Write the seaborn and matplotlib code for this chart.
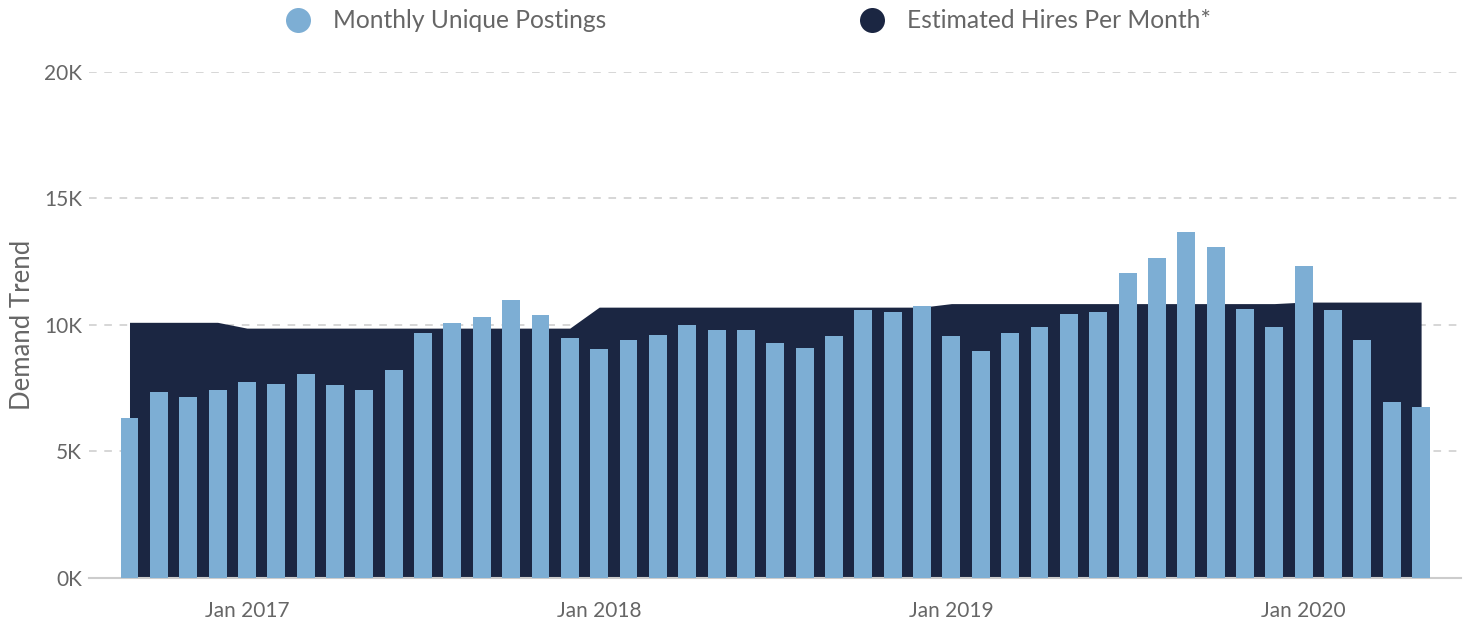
import matplotlib
matplotlib.use("Agg")
import matplotlib.pyplot as plt
from matplotlib.lines import Line2D
import pandas as pd
import seaborn as sns

# monthly data, Sep 2016 .. May 2020
months = pd.date_range("2016-09-01", "2020-05-01", freq="MS").strftime("%Y-%m").tolist()
postings = [
    6310, 7340, 7160, 7410,                      # Sep-Dec 2016
    7730, 7670, 8070, 7620, 7430, 8200,          # Jan-Jun 2017
    9690, 10070, 10310, 10970, 10390, 9480,      # Jul-Dec 2017
    9030, 9410, 9610, 10010, 9810, 9810,         # Jan-Jun 2018
    9300, 9100, 9540, 10570, 10510, 10760,       # Jul-Dec 2018
    9540, 8960, 9680, 9910, 10440, 10510,        # Jan-Jun 2019
    12070, 12650, 13680, 13080, 10640, 9930,     # Jul-Dec 2019
    12320, 10570, 9410, 6960, 6760,              # Jan-May 2020
]
hires = [10100] * 4 + [9870] * 12 + [10700] * 12 + [10840] * 12 + [10900] * 5

tick_months = ["2017-01", "2018-01", "2019-01", "2020-01"]
tick_labels = ["Jan 2017", "Jan 2018", "Jan 2019", "Jan 2020"]
yticks = [0, 5000, 10000, 15000, 20000]
ytick_labels = ["0K", "5K", "10K", "15K", "20K"]

BAR_COLOR = "#7daed4"
AREA_COLOR = "#1b2642"
TEXT_COLOR = "#666666"
GRID_COLOR = "#cccccc"

df = pd.DataFrame({"month": months, "postings": postings, "hires": hires})

sns.set_theme(style="white")
plt.rcParams["font.family"] = ["Lato", "DejaVu Sans"]

fig = plt.figure(figsize=(14.66, 6.25), dpi=100)
ax = fig.add_axes([0.0607, 0.0757, 0.9359, 0.8091])

# estimated hires as a filled area behind the bars
xpos = list(range(len(months)))
ax.fill_between(xpos, 0, df["hires"], color=AREA_COLOR, linewidth=0, zorder=2)

sns.barplot(data=df, x="month", y="postings", color=BAR_COLOR, width=0.61,
            saturation=1, edgecolor="none", linewidth=0, ax=ax, zorder=3)

ax.set_xlim(-1.38, len(months) - 1 + 1.36)
ax.set_ylim(0, 20000)
ax.set_xticks([months.index(m) for m in tick_months])
ax.set_xticklabels(tick_labels)
ax.set_yticks(yticks)
ax.set_yticklabels(ytick_labels)
ax.set_xlabel("")
ax.set_ylabel("Demand Trend", fontsize=18.5, color=TEXT_COLOR)
ax.yaxis.set_label_coords(-0.039, 0.5)

ax.tick_params(axis="both", length=0, labelsize=15, labelcolor=TEXT_COLOR)
ax.tick_params(axis="x", pad=17)
ax.tick_params(axis="y", pad=5)

ax.set_axisbelow(True)
ax.yaxis.grid(True, color=GRID_COLOR, linestyle=(0, (5, 5)), linewidth=1.1)
ax.xaxis.grid(False)
for side in ["top", "right", "left"]:
    ax.spines[side].set_visible(False)
ax.spines["bottom"].set_color(GRID_COLOR)
ax.spines["bottom"].set_linewidth(1.5)

handles = [
    Line2D([], [], marker="o", linestyle="none", markersize=18,
           markerfacecolor=BAR_COLOR, markeredgewidth=0, label="Monthly Unique Postings"),
    Line2D([], [], marker="o", linestyle="none", markersize=18,
           markerfacecolor=AREA_COLOR, markeredgewidth=0, label="Estimated Hires Per Month*"),
]
fig.legend(handles=handles, loc="center left", bbox_to_anchor=(0.1949, 0.9664),
           ncol=2, frameon=False, fontsize=17.7, labelcolor=TEXT_COLOR,
           handlelength=1.0, handletextpad=0.92, columnspacing=10.3,
           borderpad=0, borderaxespad=0)

fig.savefig("out.png", dpi=100)
